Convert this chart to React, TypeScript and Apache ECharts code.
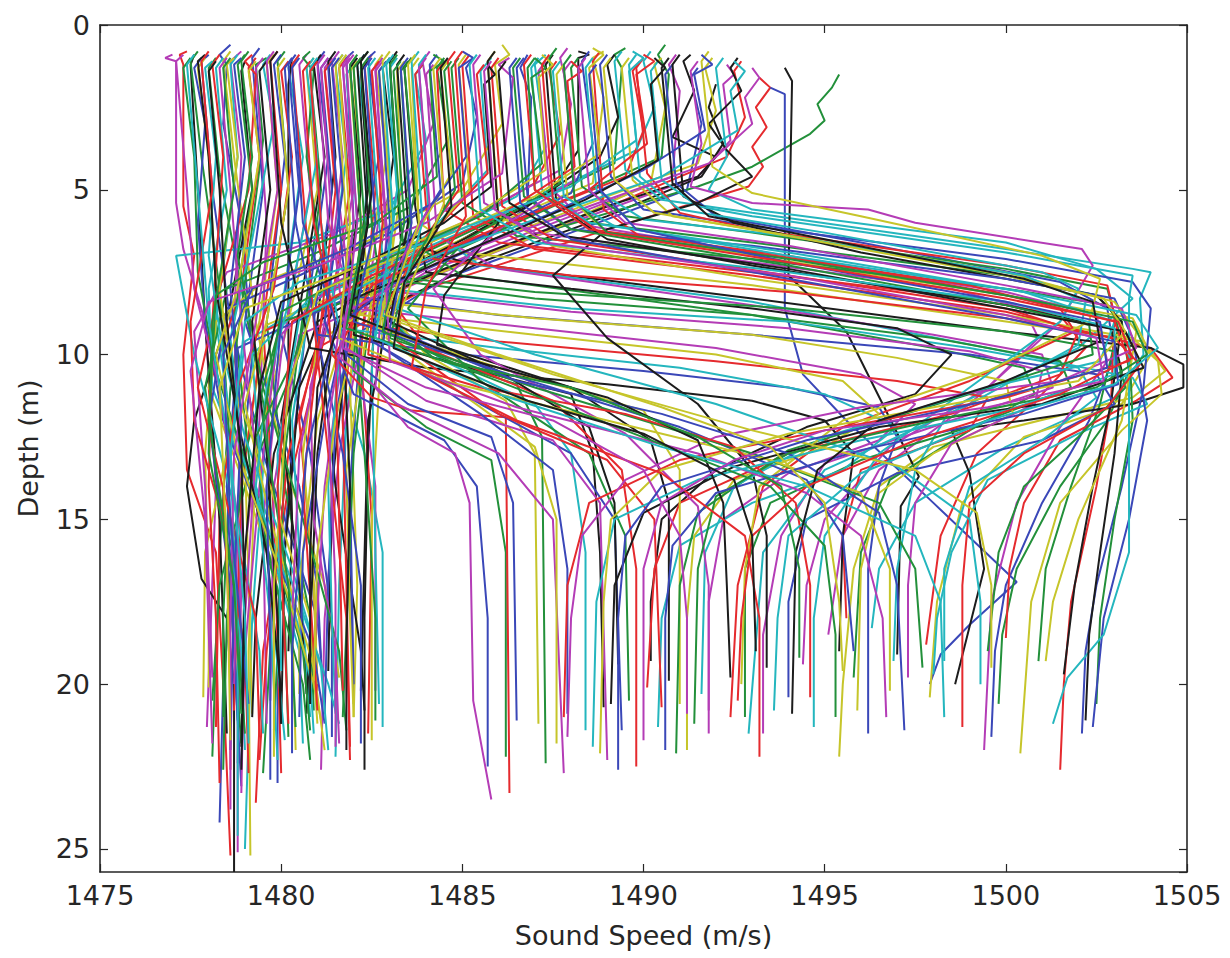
import React, { useEffect, useRef } from "react";
import * as echarts from "echarts";

// Axis ranges and tick labels
const xRange = [1475, 1505];
const yRange = [0, 25.7];
const tickStep = 5;
const xLabel = "Sound Speed (m/s)";
const yLabel = "Depth (m)";

// Each profile: flat list of [soundSpeed, depth, soundSpeed, depth, ...]
// Profiles that stay in the cold cluster (1477-1483 m/s)
const leftProfiles: number[][] = [
  [1478.6,0.6, 1478.3,0.9, 1478.5,1.2, 1478.4,3, 1478.9,6, 1479.2,10, 1478.8,15, 1478.4,20, 1478.3,24.2],
  [1479.6,1.0, 1479.3,1.2, 1479.5,3.5, 1479.1,7, 1478.6,11, 1478.3,16, 1478.1,22.2],
  [1477.4,0.8, 1477.2,0.9, 1477.3,1.2, 1477.3,5.5, 1477.6,7, 1477.3,10, 1477.4,13.5, 1478.2,16, 1478.4,20, 1478.6,25.2],
  [1480.4,1.1, 1480.2,1.3, 1480.6,4, 1480.1,8, 1479.6,12, 1479.2,18, 1479.0,25.0],
  [1477.0,0.9, 1476.8,1.0, 1477.1,1.1, 1477.1,5.4, 1477.3,6.8, 1477.9,9, 1478.2,14, 1477.95,21.3],
  [1479.8,0.9, 1479.6,1.2, 1479.9,5, 1479.4,9, 1478.5,13, 1477.9,16, 1477.85,20.4],
  [1479.0,1.1, 1478.9,1.4, 1479.2,5, 1478.5,9, 1477.6,12, 1477.4,14, 1477.8,16.8, 1478.5,18, 1478.7,20, 1478.7,25.7],

  [1481.2,0.8, 1481.0,1.1, 1481.3,4, 1480.8,8, 1480.3,13, 1479.9,18, 1479.9,23.0],
  [1478.2,1.0, 1478.0,1.3, 1478.3,4.5, 1478.9,8, 1479.6,12, 1479.8,17, 1479.5,22.7],
  [1481.8,1.0, 1481.6,1.3, 1481.9,5, 1481.3,9, 1480.2,14, 1479.5,19, 1479.3,23.6],
  [1482.3,0.9, 1482.1,1.2, 1482.4,4, 1482.2,8, 1481.8,12, 1481.6,17, 1481.5,22.2],
  [1478.9,0.8, 1478.6,1.1, 1478.9,4, 1478.7,9, 1478.9,15, 1478.8,20, 1478.8,25.1],
  [1480.9,1.0, 1480.7,1.3, 1481.0,5, 1480.2,9, 1479.3,13, 1479.1,19, 1479.15,25.2],
  [1483.0,1.0, 1482.8,1.3, 1483.1,4, 1482.6,8, 1482.4,13, 1482.3,18, 1482.3,22.6],

  [1478.0,0.9, 1477.8,1.1, 1478.1,5, 1478.6,9, 1479.5,13, 1481.0,18, 1481.2,20.5],
  [1480.1,0.8, 1479.9,1.1, 1480.2,5, 1479.6,9, 1480.1,14, 1480.8,18, 1480.9,20.8],
  [1479.3,1.0, 1479.1,1.3, 1479.4,4, 1478.9,8, 1478.0,11, 1478.3,15, 1478.2,21.3],
  [1481.7,0.9, 1481.5,1.2, 1481.8,4, 1481.2,9, 1482.3,13, 1482.8,16, 1482.8,21.3],
  [1482.7,1.1, 1482.5,1.4, 1482.8,5, 1482.3,9, 1481.6,13, 1481.2,18, 1481.1,22.6],
  [1477.9,1.0, 1477.7,1.3, 1478.0,4, 1478.2,8, 1478.0,11, 1479.0,14, 1480.3,18, 1480.4,22.0],
  [1480.3,1.0, 1480.2,1.8, 1480.2,10, 1480.3,15, 1480.2,19.0],

  [1482.0,0.8, 1481.8,1.0, 1482.0,6, 1481.6,10, 1481.9,16, 1482.0,20.6],
  [1479.0,0.9, 1478.8,1.2, 1479.2,5, 1478.7,9, 1479.2,14, 1480.1,18, 1480.2,21.6],
  [1482.5,0.9, 1482.3,1.2, 1482.6,5, 1482.2,10, 1482.5,15, 1482.4,21.5],
  [1478.4,1.0, 1478.2,1.3, 1478.5,5, 1478.0,8, 1478.1,11, 1479.5,15, 1480.5,19, 1480.6,21.8],
  [1481.4,1.0, 1481.2,1.3, 1481.5,4.5, 1482.0,9, 1482.6,14, 1482.6,20.2],
  [1483.4,1.1, 1483.2,1.4, 1483.3,5, 1482.8,9, 1482.5,15, 1482.5,21.7],
  [1477.6,0.9, 1477.5,1.2, 1477.7,5, 1477.9,9, 1478.3,15, 1478.5,21.5],

  [1480.0,0.9, 1479.8,1.2, 1480.1,4, 1479.7,8, 1480.8,13, 1481.4,18, 1481.4,21.6],
  [1477.7,0.8, 1477.5,1.1, 1477.8,4, 1478.3,8, 1478.6,13, 1478.4,18, 1478.4,21.0],
  [1479.9,0.8, 1479.7,1.1, 1480.0,5, 1479.5,9, 1479.8,15, 1480.0,22.7],
  [1478.8,0.9, 1478.6,1.2, 1478.8,4, 1478.2,9, 1478.6,12, 1480.0,16, 1481.3,20, 1481.6,21.2],
  [1480.7,0.9, 1480.5,1.2, 1480.8,5, 1480.0,10, 1479.5,15, 1479.6,21.2],
  [1482.2,1.0, 1482.0,1.3, 1482.2,6, 1481.9,11, 1482.1,17, 1482.0,21.0],
  [1481.5,0.8, 1481.3,1.1, 1481.5,4, 1481.0,9, 1481.5,14, 1482.2,19, 1482.3,20.8],

  [1479.4,0.7, 1479.2,1.0, 1479.5,5, 1479.0,9, 1480.5,14, 1481.0,17, 1481.1,19.2],
  [1481.0,1.1, 1480.8,1.4, 1481.1,5, 1480.5,10, 1479.0,14, 1478.3,17, 1478.1,20.5],
  [1478.3,0.9, 1478.1,1.2, 1478.4,4, 1478.1,9, 1478.0,14, 1478.2,18, 1478.3,23.0],
  [1483.2,1.0, 1483.0,1.3, 1483.2,5, 1482.5,10, 1482.6,16, 1482.7,20.6],
  [1479.5,1.0, 1479.3,1.3, 1479.6,6, 1479.4,12, 1478.9,17, 1478.8,22.4],
  [1478.6,0.8, 1478.4,1.1, 1478.7,4, 1479.3,9, 1480.0,13, 1481.2,17, 1481.6,19.8],
  [1482.4,1.1, 1482.2,1.4, 1482.4,5, 1481.9,9, 1481.4,14, 1481.3,19.6],
];

// More cold-cluster profiles, several slanting to the right below 10 m
const leftExtraProfiles: number[][] = [
  [1477.8,1.0, 1477.6,1.3, 1477.9,3, 1477.7,6, 1477.9,9, 1478.4,12, 1479.8,16, 1480.9,19, 1481.2,21.2],
  [1480.8,0.8, 1480.6,1.0, 1480.9,1.4, 1480.7,4, 1481.1,7, 1480.4,10, 1479.3,12.5, 1479.6,16, 1480.6,20, 1480.8,22.3],
  [1479.2,0.9, 1479.0,1.1, 1479.3,1.5, 1479.1,5, 1478.3,8, 1477.7,11, 1478.5,14.5, 1479.3,18, 1479.4,21.6],
  [1478.1,1.1, 1477.9,1.3, 1478.2,4, 1478.0,7, 1478.4,10, 1479.0,12.5, 1480.3,16.5, 1481.1,19.5, 1481.3,22.0],
  [1481.9,1.0, 1481.7,1.3, 1482.0,5, 1481.4,8.5, 1480.8,11, 1480.9,15, 1481.5,19, 1481.6,21.8],
  [1478.7,1.0, 1478.5,1.2, 1478.8,4, 1478.3,8, 1478.7,11, 1479.7,14, 1480.8,18, 1481.0,21.2],
  [1481.1,0.9, 1480.9,1.2, 1481.2,4, 1480.6,8, 1480.0,12, 1480.5,17, 1480.7,20.3],

  [1482.6,0.8, 1482.4,1.0, 1482.7,4, 1482.0,8, 1481.2,12, 1480.6,16, 1480.5,21.0],
  [1477.5,1.0, 1477.3,1.3, 1477.6,4, 1477.7,7.5, 1478.2,10.5, 1479.4,14.5, 1480.6,19, 1480.8,21.4],
  [1480.2,1.1, 1480.0,1.4, 1480.3,4, 1479.8,8, 1478.8,11, 1478.4,14, 1478.6,19, 1478.6,22.6],
  [1479.7,0.9, 1479.5,1.2, 1479.8,3, 1479.2,6.5, 1478.6,9.5, 1478.9,13, 1480.2,17, 1480.8,19.8, 1480.9,21.5],
  [1478.5,1.0, 1478.3,1.3, 1478.6,5, 1478.9,9, 1479.3,13, 1479.0,18, 1478.9,23.3],
  [1482.9,1.1, 1482.7,1.4, 1483.0,5, 1482.4,9, 1481.8,13.5, 1481.9,18, 1482.0,21.0],
  [1477.9,0.9, 1477.7,1.1, 1478.0,4, 1478.2,8, 1478.8,12, 1479.6,16, 1480.0,20.2],

  [1481.3,1.0, 1481.1,1.3, 1481.4,5, 1480.9,9, 1481.7,13, 1482.2,17, 1482.2,21.8],
  [1479.1,0.8, 1478.9,1.1, 1479.2,4, 1478.8,7, 1479.5,11, 1480.6,15, 1481.6,19, 1481.8,21.4],
  [1480.5,0.9, 1480.3,1.2, 1480.6,5, 1480.9,9, 1481.3,13, 1481.8,18, 1481.9,22.3],
  [1482.0,1.2, 1481.8,1.5, 1482.1,6, 1481.6,10, 1481.3,14, 1481.4,18, 1481.5,20.9],
  [1477.3,0.9, 1477.1,1.1, 1477.4,5, 1477.6,8, 1478.3,11, 1478.8,15, 1478.7,20.0],
  [1480.1,1.0, 1479.9,1.3, 1480.2,5, 1479.6,9, 1479.0,11.5, 1479.7,15, 1480.9,19.5, 1481.2,22.0],
  [1479.6,1.1, 1479.4,1.4, 1479.7,5, 1479.2,9, 1479.6,13, 1479.9,18, 1480.0,21.2],

  [1478.9,1.0, 1478.7,1.2, 1479.0,4, 1478.6,8, 1478.9,12, 1478.7,17, 1478.6,22.0],
  [1482.4,1.0, 1482.2,1.3, 1482.5,5, 1482.0,8.5, 1482.3,13, 1482.6,18, 1482.6,21.1],
  [1478.0,0.8, 1477.8,1.1, 1478.1,5, 1477.5,9, 1477.6,12, 1478.4,15, 1479.0,19, 1479.1,22.7],
  [1480.9,1.0, 1480.7,1.3, 1481.0,4, 1480.3,8, 1479.6,11, 1479.3,14, 1479.7,18, 1479.9,22.3],
  [1481.6,0.8, 1481.4,1.1, 1481.7,4, 1481.2,9, 1480.5,13, 1480.3,18, 1480.3,21.4],
  [1479.3,1.1, 1479.1,1.4, 1479.4,4, 1478.8,8, 1478.2,10, 1478.8,13, 1480.1,17, 1480.9,20, 1481.1,21.1],
  [1482.1,1.0, 1481.9,1.3, 1482.2,5, 1481.7,9, 1481.9,14, 1481.8,19, 1481.8,22.0],

  [1480.4,0.9, 1480.2,1.2, 1480.5,5, 1480.0,9, 1479.6,14, 1479.7,19, 1479.7,22.9],
  [1478.6,1.0, 1478.4,1.3, 1478.7,5, 1478.1,9, 1478.0,13, 1478.7,17, 1479.0,21.5],
  [1481.4,1.1, 1481.2,1.4, 1481.5,5, 1481.0,10, 1480.6,14, 1480.9,19, 1481.0,20.8],
  [1477.6,0.9, 1477.4,1.2, 1477.7,5, 1478.0,9, 1478.6,13, 1478.8,19, 1478.8,24.6],
  [1479.8,0.8, 1479.6,1.1, 1479.9,5, 1479.3,9, 1478.7,13, 1478.6,18, 1478.6,23.8],
  [1482.8,0.9, 1482.6,1.2, 1482.9,4, 1482.3,8, 1481.5,12, 1481.0,16, 1480.9,19.9],
  [1478.2,1.1, 1478.0,1.4, 1478.3,5, 1478.5,9, 1478.9,13, 1479.0,18, 1478.9,22.6],
];

// Profiles warm at the surface that drop into the cold cluster
const upperProfiles: number[][] = [
  [1486.8,0.9, 1486.6,1.3, 1486.9,2.2, 1486.8,5.5, 1484.8,7.3, 1482.0,8.6, 1481.5,12, 1481.3,17, 1481.2,20.9],
  [1489.5,0.7, 1489.2,0.9, 1489.4,1.3, 1489.2,4.2, 1486.5,5.6, 1483.0,7.4, 1480.6,8.8, 1480.1,13, 1479.9,19, 1479.8,21.4],
  [1493.2,1.6, 1493.5,1.9, 1493.1,2.5, 1493.4,3.1, 1493.0,3.7, 1493.3,4.3, 1492.9,4.9, 1489.0,6.2, 1484.0,8.0, 1481.0,9.8, 1480.2,13, 1479.6,19, 1479.4,22.3],
  [1485.8,1.0, 1485.5,1.4, 1485.7,4.4, 1484.0,6.4, 1481.5,8.0, 1479.0,9.6, 1478.5,14, 1478.9,19, 1479.0,22.0],
  [1490.9,0.9, 1490.7,1.2, 1491.0,2.0, 1490.8,4.6, 1488.0,5.8, 1484.0,7.5, 1481.8,9.0, 1481.2,14, 1480.9,19.7],
  [1486.1,0.6, 1486.3,0.9, 1485.9,1.2, 1486.1,3.0, 1485.0,5.0, 1482.5,6.5, 1479.5,7.8, 1478.2,9, 1477.9,13, 1478.0,18, 1478.0,20.1],
  [1488.2,0.8, 1488.5,0.9, 1488.2,1.0, 1488.2,3.8, 1487.5,5.0, 1484.5,6.8, 1481.5,8.5, 1480.5,11, 1480.1,16, 1480.0,21.2],

  [1491.5,1.3, 1491.3,1.6, 1491.6,3.0, 1491.2,5.0, 1488.0,6.3, 1484.5,7.7, 1482.2,9.3, 1481.9,14, 1482.0,20.0],
  [1484.5,1.0, 1484.3,1.3, 1484.6,3.5, 1483.6,5.5, 1481.0,6.9, 1478.5,8.0, 1477.9,11, 1478.5,16, 1478.9,21.8],
  [1487.6,1.1, 1487.4,1.4, 1487.7,3.3, 1487.0,4.8, 1484.3,6.5, 1481.3,8.1, 1480.5,12, 1480.9,17, 1481.0,20.2],
  [1490.2,0.8, 1490.0,1.1, 1490.3,2.5, 1489.8,3.8, 1487.0,5.3, 1483.5,7.0, 1480.8,8.4, 1480.3,12, 1480.6,18, 1480.8,21.0],
  [1492.3,1.2, 1492.5,1.5, 1492.2,1.8, 1492.4,3.5, 1491.5,4.6, 1488.0,6.0, 1484.0,7.7, 1480.5,9.4, 1479.8,14, 1479.7,20.5],
  [1488.9,0.8, 1488.6,1.0, 1488.9,2.2, 1488.6,4.8, 1486.0,6.0, 1482.6,7.7, 1479.6,9.1, 1479.0,13, 1479.2,20.9],
  [1492.0,1.8, 1491.8,2.5, 1492.2,3.6, 1491.6,4.6, 1489.0,5.8, 1485.5,7.2, 1483.0,8.5, 1482.4,12, 1482.2,20.2],

  [1485.3,1.0, 1485.1,1.3, 1485.4,2.8, 1485.0,4.8, 1483.0,6.3, 1480.5,7.6, 1478.5,8.6, 1478.0,12, 1478.6,17, 1478.9,23.1],
  [1490.6,0.6, 1490.4,0.9, 1490.7,1.5, 1490.5,4.0, 1487.5,5.5, 1484.5,7.0, 1482.5,8.2, 1482.0,13, 1481.7,21.0],
  [1489.9,1.1, 1489.7,1.4, 1490.0,3.2, 1489.5,4.6, 1487.0,5.7, 1483.0,7.6, 1479.5,9.3, 1478.9,14, 1478.7,20.8],
  [1487.3,0.9, 1487.0,1.2, 1487.3,3.7, 1486.5,5.2, 1483.5,6.9, 1480.8,8.3, 1479.2,10, 1479.6,16, 1480.1,21.7],
  [1484.1,0.8, 1483.9,1.1, 1484.2,3.0, 1483.5,5.0, 1481.5,6.3, 1478.5,7.5, 1477.6,9.3, 1477.9,14, 1478.1,19.8],
  [1491.9,1.0, 1491.7,1.3, 1492.0,2.6, 1491.5,4.2, 1489.0,5.2, 1485.0,6.9, 1482.0,8.4, 1481.0,12, 1480.5,17, 1480.5,20.3],
  [1489.2,0.9, 1489.0,1.2, 1489.3,2.8, 1488.8,4.0, 1486.8,5.5, 1483.8,7.2, 1481.0,9.0, 1479.8,13, 1479.3,18, 1479.2,21.0],

  [1488.5,0.8, 1488.3,1.1, 1488.6,3.6, 1488.0,5.1, 1485.2,6.6, 1481.8,8.3, 1478.8,9.8, 1478.5,14, 1478.8,21.1],
  [1495.4,1.5, 1495.2,1.9, 1494.8,2.4, 1495.0,2.9, 1494.6,3.3, 1493.0,4.3, 1491.5,4.9, 1487.5,6.2, 1483.5,7.8, 1480.0,9.0, 1479.0,13, 1478.5,18, 1478.4,22.6],
  [1492.7,1.1, 1492.5,1.4, 1492.8,2.8, 1492.3,4.0, 1489.5,5.3, 1485.5,7.0, 1482.0,8.6, 1481.7,12, 1481.9,21.9],
  [1483.9,1.2, 1483.7,1.5, 1484.0,3.5, 1483.0,5.6, 1480.5,6.6, 1477.1,7.0, 1477.6,10, 1478.8,15, 1479.4,19, 1479.5,21.5],
  [1487.9,0.7, 1487.7,1.0, 1488.0,2.4, 1487.7,4.4, 1485.0,6.0, 1481.5,7.8, 1479.9,9.5, 1479.4,14, 1479.0,19, 1478.9,22.6],
  [1490.5,1.0, 1490.3,1.2, 1490.6,2.5, 1490.2,4.8, 1487.5,6.2, 1483.5,7.9, 1481.0,9.6, 1480.6,13, 1480.9,17, 1481.0,20.0],
  [1491.3,0.9, 1491.1,1.1, 1491.4,2.0, 1490.8,3.4, 1492.0,4.0, 1491.5,4.6, 1489.0,5.5, 1484.5,7.4, 1481.5,8.9, 1481.0,13, 1480.7,20.9],
];

const upperExtraProfiles: number[][] = [
  [1485.0,0.8, 1485.3,1.0, 1484.9,1.3, 1485.1,4.0, 1484.2,5.4, 1481.8,6.8, 1479.2,8.0, 1478.4,10, 1478.6,15, 1479.1,20.6],
  [1487.0,1.0, 1487.3,1.3, 1486.9,1.6, 1487.2,4.2, 1485.5,5.8, 1482.5,7.3, 1480.0,8.7, 1479.5,12, 1480.2,17, 1480.4,21.3],
  [1490.0,0.9, 1490.3,1.1, 1489.8,1.5, 1490.1,3.6, 1488.5,5.0, 1485.0,6.6, 1482.5,7.9, 1481.5,10, 1481.6,15, 1481.7,20.2],
  [1492.5,1.1, 1492.8,1.4, 1492.4,2.0, 1492.6,3.2, 1490.5,4.6, 1487.0,5.9, 1483.0,7.5, 1480.5,8.9, 1479.9,13, 1480.0,19.6],
  [1486.3,1.0, 1486.0,1.2, 1486.4,1.6, 1486.1,4.5, 1484.0,6.0, 1481.0,7.3, 1478.0,8.4, 1477.5,10.5, 1477.9,15, 1478.1,21.8],
  [1488.6,0.7, 1488.9,0.9, 1488.5,1.3, 1488.8,3.9, 1487.0,5.2, 1483.5,6.9, 1481.0,8.1, 1480.2,11, 1479.8,17, 1479.8,22.2],
  [1485.7,1.2, 1485.9,1.5, 1485.6,1.8, 1485.8,4.9, 1484.5,6.0, 1482.0,7.4, 1480.0,8.4, 1479.4,11, 1479.0,16, 1478.9,21.9],

  [1491.6,0.9, 1491.9,1.2, 1491.4,1.5, 1491.7,3.2, 1490.0,4.4, 1486.5,6.2, 1483.0,7.9, 1481.5,9.2, 1480.7,13, 1480.3,19, 1480.3,22.1],
  [1484.2,0.9, 1484.5,1.1, 1484.1,1.4, 1484.3,4.6, 1482.6,6.0, 1479.5,7.2, 1478.2,8.2, 1478.0,12, 1478.7,17, 1478.9,20.9],
  [1488.0,1.1, 1488.3,1.4, 1487.9,1.7, 1488.1,4.3, 1486.0,5.8, 1482.5,7.6, 1480.3,9.0, 1479.9,14, 1480.2,21.2],
  [1489.7,0.8, 1490.0,1.0, 1489.6,1.4, 1489.8,3.5, 1488.0,4.9, 1484.0,6.6, 1480.5,7.8, 1479.0,9.0, 1478.6,13, 1479.0,18, 1479.1,21.8],
  [1493.0,1.3, 1493.2,1.6, 1492.8,2.2, 1493.0,3.0, 1491.8,4.2, 1488.5,5.5, 1484.5,7.1, 1481.8,8.7, 1481.3,12, 1481.5,17, 1481.5,21.9],
  [1487.2,0.9, 1487.5,1.2, 1487.1,1.6, 1487.3,4.4, 1485.0,6.0, 1481.5,7.6, 1479.0,8.6, 1478.3,11, 1478.5,16, 1478.6,21.7],
  [1490.3,1.0, 1490.6,1.3, 1490.2,1.8, 1490.4,4.1, 1488.4,5.3, 1484.8,7.0, 1481.8,8.4, 1481.0,11, 1480.8,16, 1480.8,20.6],
];

// Profiles with the warm layer (1495-1505 m/s) at 6-12 m
const warmProfiles: number[][] = [
  [1493.5,1.9, 1493.9,2.1, 1493.9,8.6, 1494.4,10.6, 1495.6,12.0, 1498.0,14.5, 1500.3,16.9, 1499.0,18.2, 1498.2,19.1, 1497.9,20.0],
  [1487.0,1.0, 1486.8,1.3, 1487.0,5.0, 1488.5,6.0, 1493,6.6, 1500,7.6, 1502.5,8.2, 1503.2,9.0, 1503.4,10.5, 1502.8,12.0, 1501.5,14.0, 1500.3,16.5, 1499.9,18.5, 1499.8,20.6],
  [1484.5,1.1, 1484.3,1.4, 1484.5,5.6, 1486.0,6.6, 1493,7.5, 1499,8.3, 1501.5,8.8, 1502.2,9.8, 1501.0,11.2, 1499.2,13.0, 1498.2,15.5, 1497.8,18.8],
  [1489.4,0.8, 1489.2,1.1, 1489.5,4.4, 1490.5,5.3, 1493,5.7, 1500,6.8, 1503.5,7.4, 1504.0,7.5, 1503.7,8.3, 1503.8,10.0, 1503.0,11.3, 1500.0,12.8, 1497.5,14.5, 1496.5,16.5, 1496.3,18.3],
  [1485.5,0.9, 1485.3,1.2, 1485.6,5.4, 1487,6.3, 1493,7.2, 1498.5,8.0, 1500.5,8.6, 1500.9,9.5, 1499.5,11.0, 1496.8,12.8, 1495.0,15.0, 1494.5,17.0, 1494.4,19.4],
  [1483.8,1.0, 1483.6,1.3, 1483.8,6.0, 1485,6.9, 1493,7.9, 1500,9.0, 1503.8,9.6, 1504.4,10.5, 1503.5,11.3, 1498.0,12.8, 1496.5,14.0, 1495.8,16.5, 1495.5,20.0, 1495.4,22.2],
  [1493.9,1.3, 1494.1,1.7, 1494.0,7.6, 1495.6,9.3, 1497.6,13.7, 1497.1,14.6, 1497.0,19.1],

  [1490.8,1.2, 1490.6,1.5, 1490.9,4.8, 1492,5.8, 1496,6.6, 1501.5,7.8, 1502.8,8.6, 1503.0,10.0, 1502.3,12.0, 1501.0,14.5, 1500.0,17.0, 1499.7,19.0, 1499.6,21.6],
  [1488.2,1.0, 1488.0,1.3, 1488.3,4.9, 1489.5,5.8, 1493,6.3, 1500,7.4, 1502.8,8.0, 1503.1,9.2, 1502.6,11.5, 1501.8,14.0, 1501.1,16.5, 1500.9,19.3],
  [1485.2,0.9, 1485.0,1.2, 1485.3,5.8, 1487,6.8, 1493,7.6, 1500,8.7, 1504.0,9.8, 1504.6,10.7, 1503.6,11.4, 1501.5,12.6, 1500.5,14.5, 1500.1,16.5, 1500.0,18.6],
  [1492.2,1.0, 1492.0,1.3, 1492.3,4.0, 1491.8,5.0, 1493,5.6, 1500,6.6, 1502.5,7.4, 1503.5,8.3, 1502.0,9.8, 1498.5,11.6, 1497.5,13.5, 1497.0,16.5, 1496.9,19.3],
  [1491.5,1.1, 1491.3,1.4, 1491.6,3.6, 1491.3,4.9, 1493,5.4, 1496.2,5.6, 1497.5,6.0, 1502.1,6.8, 1502.4,7.3, 1501.5,9.0, 1499.0,11.5, 1496.5,13.5, 1495.5,15.5, 1495.1,18.5],
  [1487.8,1.2, 1487.6,1.5, 1487.9,5.2, 1489,6.3, 1493,7.0, 1500,8.2, 1503.5,8.9, 1504.0,10.0, 1503.2,11.5, 1500.5,12.5, 1498.8,14.5, 1498.1,17.5, 1497.9,20.4],
  [1483.2,0.8, 1483.0,1.1, 1483.3,6.5, 1485,7.2, 1493,8.3, 1500,9.3, 1504.0,9.8, 1504.9,10.3, 1504.9,11.0, 1503.5,11.5, 1500.5,12.0, 1498.5,12.3, 1499.0,13.6, 1499.4,16.5, 1498.6,20.0],

  [1489.0,0.9, 1488.8,1.2, 1489.1,4.6, 1490,5.6, 1493,6.1, 1500,7.1, 1503.5,7.8, 1504.0,8.6, 1503.8,11.0, 1503.2,14.0, 1502.5,17.0, 1502.2,19.0, 1502.1,21.5],
  [1484.9,1.0, 1484.7,1.3, 1485.0,5.4, 1486.5,6.4, 1493,7.1, 1500,8.0, 1502.8,8.5, 1503.4,9.5, 1503.5,12.0, 1503.0,15.0, 1502.6,18.0, 1502.5,20.6],
  [1490.0,1.0, 1489.8,1.3, 1490.1,4.5, 1491,5.7, 1493,6.2, 1500,7.3, 1502.8,7.9, 1503.0,8.8, 1502.9,11.5, 1502.5,14.0, 1501.8,17.5, 1501.6,20.0, 1501.5,22.6],
  [1484.0,0.9, 1483.8,1.2, 1484.1,6.2, 1485.5,7.3, 1493,8.4, 1499.5,9.8, 1503.5,10.7, 1503.9,11.5, 1502.0,12.4, 1499.5,13.8, 1498.5,16.0, 1498.1,18.0, 1498.0,19.7],
  [1487.3,1.1, 1487.1,1.4, 1487.4,4.9, 1488.5,6.1, 1493,6.9, 1500,8.1, 1502.5,8.8, 1502.8,10.2, 1501.5,12.2, 1500.3,14.5, 1499.6,17.5, 1499.4,22.0],
  [1485.9,0.8, 1485.7,1.1, 1486.0,5.8, 1487.5,6.7, 1493,7.7, 1500,8.8, 1503.5,9.5, 1504.2,10.2, 1504.3,11.2, 1503.2,12.3, 1501.5,14.5, 1500.7,17.5, 1500.4,22.1],
  [1491.0,0.9, 1490.8,1.2, 1491.1,5.2, 1492.5,6.0, 1496,6.9, 1501,7.9, 1502.5,8.2, 1503.2,9.0, 1502.9,11.5, 1502.4,14.0, 1501.9,17.0, 1501.6,19.7],

  [1486.7,1.0, 1486.5,1.3, 1486.8,5.2, 1488,6.2, 1493,6.7, 1500,7.7, 1503.0,8.3, 1503.5,9.5, 1503.9,12.0, 1503.4,15.0, 1502.7,18.0, 1502.4,21.3],
  [1483.5,1.1, 1483.3,1.4, 1483.6,6.6, 1485,7.6, 1493,8.8, 1498,9.8, 1500.5,10.4, 1500.8,11.2, 1499.0,12.3, 1496.8,13.8, 1496.0,16.0, 1495.8,19.8],
  [1488.8,0.8, 1488.6,1.1, 1488.9,5.6, 1490,6.5, 1493,6.9, 1499,7.9, 1501.5,8.6, 1501.9,9.3, 1499.0,10.8, 1495.5,12.2, 1493.3,14.0, 1492.6,17.0, 1492.4,21.0],
  [1490.4,1.1, 1490.2,1.4, 1490.5,4.7, 1491.5,5.5, 1493,5.8, 1500,6.9, 1503.5,7.6, 1503.4,8.3, 1503.4,12.5, 1503.4,16.0, 1502.7,18.5, 1501.7,19.8, 1501.3,21.2],
  [1484.2,1.2, 1484.0,1.5, 1484.3,6.4, 1486,7.4, 1493,8.5, 1498,9.4, 1501.0,10.0, 1501.3,11.0, 1498.5,12.0, 1495.0,13.3, 1493.8,15.5, 1493.3,18.5, 1493.3,21.5],
  [1489.6,1.0, 1489.4,1.3, 1489.7,4.7, 1490.8,5.8, 1493,6.2, 1500,7.5, 1503.0,8.4, 1503.6,9.3, 1503.2,12.0, 1502.0,15.0, 1501.3,17.5, 1501.1,19.3],
  [1487.5,0.9, 1487.3,1.2, 1487.6,5.5, 1489,6.5, 1493,7.3, 1500,8.5, 1502.9,9.2, 1503.2,10.5, 1503.0,13.0, 1502.6,16.0, 1502.3,18.5, 1502.2,21.1],
];

// Warm-layer profiles entering from the cold cluster at 7.5-10 m
const deepLobeProfiles: number[][] = [
  [1481.5,1.0, 1481.3,1.3, 1481.6,6, 1481.8,8.2, 1486,8.8, 1493,9.4, 1499,10.0, 1502.5,10.6, 1503.0,11.5, 1501.0,12.6, 1497.0,13.6, 1494.5,15.0, 1494.0,17.5, 1494.0,20.4],
  [1483.2,0.9, 1483.0,1.2, 1483.3,6, 1483.5,7.8, 1487,8.3, 1493,8.8, 1498,9.5, 1501.5,10.2, 1501.8,11.0, 1499.0,12.2, 1496.0,13.2, 1493.5,14.5, 1492.8,16.5, 1492.8,21.0],
  [1480.8,1.1, 1480.6,1.4, 1480.9,6, 1481.5,9.0, 1486,9.6, 1492,10.2, 1497,10.8, 1499.5,11.3, 1499.0,12.3, 1496.0,13.5, 1495.5,15.5, 1495.6,18.0],
  [1482.6,1.0, 1482.4,1.3, 1482.7,6, 1482.9,8.0, 1488,8.6, 1494,9.0, 1499,9.8, 1502.0,10.4, 1502.5,11.3, 1501.0,12.6, 1499.0,14.0, 1498.3,16.5, 1498.3,19.3],
  [1481.2,0.9, 1481.0,1.2, 1481.3,6, 1482.0,8.6, 1487,9.2, 1492,9.8, 1496,10.6, 1497.5,11.5, 1496.5,12.6, 1494.0,13.6, 1492.2,15.0, 1491.8,17.5, 1491.8,20.8],
  [1482.1,1.1, 1481.9,1.4, 1482.2,6, 1482.5,8.4, 1487,8.9, 1493,9.4, 1497,10.1, 1500.0,10.8, 1500.2,11.8, 1498.0,13.0, 1496.5,14.2, 1496.0,16.5, 1495.9,20.8],
  [1483.6,1.0, 1483.4,1.3, 1483.7,5.5, 1484.0,7.5, 1488,8.0, 1493,8.6, 1497,9.2, 1498.5,10.0, 1497.5,11.2, 1494.5,12.2, 1492.0,13.5, 1490.5,15.0, 1490.2,17.5, 1490.2,19.3],

  [1480.3,1.0, 1480.1,1.3, 1480.4,6, 1481.0,9.4, 1485,10.0, 1490,10.5, 1494,11.0, 1496.5,11.6, 1497.0,12.5, 1496.5,14.0, 1496.2,16.5, 1496.2,21.5],
  [1482.4,0.8, 1482.2,1.1, 1482.5,6, 1482.7,7.6, 1487,8.1, 1494,8.6, 1500,9.3, 1503.0,9.9, 1503.3,11.0, 1502.0,12.5, 1500.5,14.0, 1499.8,16.0, 1499.5,19.0],
  [1483.9,1.2, 1483.7,1.5, 1484.0,5.5, 1484.2,7.1, 1488,7.6, 1494,8.1, 1500,8.9, 1503.0,9.5, 1503.7,10.3, 1502.8,11.6, 1500.5,13.0, 1499.0,14.5, 1498.8,17.0, 1498.8,21.3],
  [1481.0,1.0, 1480.8,1.3, 1481.1,6, 1481.6,9.2, 1486,9.8, 1491,10.4, 1495,11.2, 1497.0,12.2, 1495.5,13.5, 1493.0,14.5, 1491.0,15.8, 1490.5,18.0, 1490.4,21.3],
  [1482.8,1.1, 1482.6,1.4, 1482.9,6, 1483.2,8.1, 1488,8.7, 1494,9.2, 1499,9.9, 1501.0,10.5, 1500.8,11.5, 1498.5,12.7, 1497.5,14.5, 1497.3,17.0, 1497.3,19.8],
  [1481.7,0.9, 1481.5,1.2, 1481.8,6, 1482.2,8.8, 1487,9.4, 1492,10.0, 1495.5,10.8, 1496.5,11.8, 1495.0,12.8, 1492.5,13.8, 1491.4,15.5, 1491.2,18.0, 1491.2,22.0],
  [1479.9,0.8, 1479.7,1.1, 1480.0,6, 1480.8,9.8, 1484,10.4, 1489,10.9, 1493,11.4, 1495.0,12.0, 1495.8,13.0, 1495.5,15.5, 1495.4,19.0],
];

// Profiles that warm up again below 10 m
const midProfiles: number[][] = [
  [1481.6,1.0, 1481.4,1.3, 1481.7,5, 1481.2,9, 1482.0,11.2, 1484.5,12.6, 1485.4,14.0, 1485.7,18, 1485.7,22.5],
  [1482.1,0.9, 1481.9,1.2, 1482.2,6, 1482.0,10.5, 1484.0,12.2, 1485.8,13.2, 1486.2,16, 1486.2,22.2],
  [1481.0,1.1, 1480.8,1.4, 1481.1,6, 1481.4,10, 1482.5,11.3, 1483.6,11.7, 1486.2,11.9, 1486.3,23.3],
  [1483.1,0.9, 1482.9,1.2, 1483.2,5, 1482.8,8.8, 1484.5,10.2, 1487.0,11.5, 1488.0,13, 1488.4,16, 1488.4,21.4],
  [1482.8,1.0, 1482.6,1.3, 1482.9,6.5, 1482.6,11, 1483.5,12.2, 1484.8,13.0, 1485.2,14.5, 1485.3,20.5, 1485.8,23.5],
  [1484.6,1.1, 1484.4,1.4, 1484.7,4.5, 1483.5,6.8, 1482.8,8.5, 1484.0,10.0, 1486.2,11.4, 1487.0,13.0, 1487.1,21.2],
  [1482.4,0.8, 1482.2,1.1, 1482.5,5, 1482.0,9.4, 1485.5,10.5, 1488.0,11.2, 1488.6,13, 1488.8,16, 1488.9,20.7],

  [1480.5,1.0, 1480.3,1.3, 1480.6,6, 1481.8,10, 1483.5,11.5, 1485.8,12.5, 1486.4,14.5, 1486.5,21.1],
  [1483.6,1.0, 1483.4,1.3, 1483.7,5, 1483.0,9.0, 1484.2,10.1, 1486.5,10.9, 1487.2,12.5, 1487.3,22.4],
  [1485.6,1.2, 1485.4,1.5, 1485.7,4.5, 1484.0,6.5, 1483.0,8.3, 1484.0,9.8, 1487.5,11.4, 1489.4,13.5, 1489.8,16.5, 1489.8,22.5],
  [1488.6,1.0, 1488.4,1.3, 1488.7,5.0, 1490,5.9, 1494,6.4, 1500.5,7.6, 1502.2,8.4, 1502.0,9.7, 1499.0,11.5, 1495.0,13.5, 1493.3,16.0, 1492.9,21.5],
  [1481.9,0.9, 1481.7,1.2, 1482.0,6, 1481.5,10, 1483.2,11.5, 1486.0,13.0, 1487.5,15.0, 1487.8,22.7],
  [1485.1,0.9, 1484.9,1.2, 1485.2,5.0, 1483.6,7.0, 1482.9,9.5, 1485.0,11.2, 1487.0,12.8, 1487.6,15.0, 1487.6,21.8],
  [1492.6,1.0, 1492.4,1.3, 1492.7,2.0, 1491.8,3.0, 1492.3,3.8, 1493.0,4.6, 1491.5,5.4, 1489.0,6.2, 1487.5,7.6, 1489.0,9.5, 1491.5,11.5, 1493.0,13.5, 1493.4,15.5, 1493.4,19.5],

  [1482.9,1.1, 1482.7,1.4, 1483.0,6.0, 1482.5,9.6, 1485.5,11.5, 1488.0,13.0, 1489.2,15.0, 1489.4,21.4],
  [1487.6,0.7, 1487.4,1.0, 1487.7,4.8, 1485.0,6.6, 1483.5,8.6, 1485.5,10.8, 1488.5,13.0, 1489.5,15.5, 1489.6,20.5],
  [1486.0,1.0, 1485.8,1.3, 1486.1,5.5, 1487.5,6.5, 1494,7.6, 1500,8.6, 1502.0,9.3, 1501.5,10.6, 1498.5,11.8, 1494.0,13.0, 1491.0,14.5, 1490.3,16.5, 1490.1,20.1],
  [1489.8,0.9, 1489.6,1.2, 1489.9,4.6, 1491,5.6, 1495,6.3, 1501,7.5, 1502.0,8.0, 1501.5,9.0, 1499.0,11.0, 1496.5,13.0, 1495.0,15.5, 1494.7,18, 1494.7,21.3],
  [1481.3,1.0, 1481.1,1.3, 1481.4,6.0, 1481.8,9.8, 1484.0,11.4, 1487.5,12.6, 1488.8,14.5, 1489.0,22.3],
  [1483.0,0.8, 1482.8,1.1, 1483.1,7, 1482.7,9.2, 1486,10.4, 1490,11.7, 1491.0,13.5, 1491.0,20.6],
  [1485.9,0.8, 1485.7,1.1, 1486.0,6, 1484.5,8.2, 1484.3,9.7, 1488.0,11.0, 1490.2,12.6, 1490.7,14.5, 1490.7,19.9],

  [1484.3,0.9, 1484.1,1.2, 1484.4,5.0, 1483.0,7.5, 1482.8,9.8, 1485.5,11.8, 1487.5,13.5, 1487.9,16.5, 1487.9,20.9],
  [1486.6,1.0, 1486.4,1.3, 1486.7,5.2, 1488.0,6.2, 1494.0,7.3, 1500.0,8.5, 1502.3,9.1, 1502.4,10.0, 1499.0,11.2, 1494.0,12.9, 1491.5,14.8, 1491.0,17.0, 1490.9,22.1],
  [1484.8,0.8, 1484.6,1.1, 1484.9,5.0, 1483.5,7.2, 1483.2,9.6, 1486.0,11.8, 1489.0,13.2, 1490.3,15.0, 1490.5,20.7],
  [1487.1,1.0, 1486.9,1.3, 1487.2,5.0, 1488.5,6.0, 1494,6.9, 1500.5,8.1, 1503.0,9.0, 1502.6,10.2, 1499.5,11.0, 1495.0,12.5, 1492.5,14.0, 1491.7,16.0, 1491.6,20.3],
  [1488.0,1.1, 1487.8,1.4, 1488.1,4.7, 1486.0,6.2, 1484.2,8.0, 1485.5,10.0, 1489.5,12.4, 1491.5,14.6, 1491.8,17.0, 1491.8,21.5],
  [1491.8,0.8, 1491.6,1.1, 1491.9,4.3, 1493,5.1, 1496,5.8, 1501,7.0, 1502.6,7.7, 1502.3,9.0, 1499.5,10.5, 1495.5,12.0, 1493.2,14.0, 1492.8,16.5, 1492.7,20.0],
  [1483.4,0.9, 1483.2,1.2, 1483.5,6.0, 1483.0,9.0, 1486.0,10.5, 1488.5,12.2, 1489.2,14.5, 1489.3,19.4],
];

// Profiles crossing the middle between 9 and 16 m
const crossProfiles: number[][] = [
  [1482.5,1.0, 1482.3,1.3, 1482.6,6, 1482.0,9.0, 1486,10.5, 1491,12.2, 1494.5,13.8, 1495.5,15.5, 1495.8,19.0],
  [1484.7,1.1, 1484.5,1.4, 1484.8,5, 1483.5,7.5, 1483.0,9.5, 1487,11.0, 1493,13.0, 1496.5,14.5, 1497.5,16.5, 1497.7,19.5],
  [1486.9,0.9, 1486.7,1.2, 1487.0,5.0, 1488.5,6.2, 1494,7.0, 1500,8.2, 1503.0,9.0, 1503.4,10.2, 1500.0,11.3, 1495.0,12.3, 1491.0,13.2, 1488.5,14.5, 1487.9,17.0, 1487.8,21.0],
  [1483.8,0.8, 1483.6,1.1, 1483.9,6, 1483.2,8.6, 1487,10.0, 1492,11.5, 1497,13.4, 1499.0,15.0, 1499.3,17.5, 1499.3,20.0],
  [1488.4,1.0, 1488.2,1.3, 1488.5,5.0, 1489.5,6.0, 1494,6.7, 1500,7.9, 1503.2,8.6, 1503.6,9.8, 1501.5,10.8, 1496,11.6, 1492,12.5, 1489.5,13.8, 1488.3,15.5, 1488.0,18.0, 1487.9,21.6],
  [1481.8,0.9, 1481.6,1.2, 1481.9,6, 1481.6,9.5, 1484.5,10.8, 1489,12.0, 1493.5,13.2, 1496.0,14.2, 1496.8,16.5, 1496.8,20.2],
  [1486.2,1.1, 1486.0,1.4, 1486.3,5.4, 1487.8,6.4, 1494,7.4, 1500,8.6, 1503.3,9.3, 1503.8,10.4, 1501.0,11.5, 1496.5,12.2, 1492.5,13.4, 1490.0,14.8, 1489.2,17.0, 1489.1,20.6],

  [1483.5,1.0, 1483.3,1.3, 1483.6,6, 1483.0,9.2, 1486.5,10.8, 1490.5,11.8, 1494,13.0, 1496.5,14.8, 1497.0,17.0, 1497.2,21.4],
  [1488.0,0.9, 1487.8,1.2, 1488.1,5.3, 1489.0,6.3, 1494,7.1, 1500.5,8.3, 1503.5,9.0, 1503.9,10.0, 1502.5,11.0, 1498,12.0, 1494,13.0, 1492.0,14.3, 1491.5,16.5, 1491.4,21.2],
  [1482.7,1.1, 1482.5,1.4, 1482.8,6, 1482.4,10.0, 1485.5,11.0, 1489.5,11.8, 1492.5,12.8, 1494.2,14.5, 1494.6,17.0, 1494.6,20.4],
  [1485.4,0.9, 1485.2,1.2, 1485.5,5.6, 1487.0,6.6, 1494,7.5, 1500,8.4, 1503.0,9.2, 1503.0,10.6, 1500.0,11.7, 1496.0,12.6, 1491.5,13.8, 1489.2,15.0, 1488.7,17.5, 1488.6,21.9],
  [1484.0,1.0, 1483.8,1.3, 1484.1,5.5, 1482.9,8.0, 1483.0,10.2, 1486.5,11.6, 1491.5,13.0, 1494.5,14.2, 1496.0,15.5, 1496.6,18.0, 1496.7,21.0],
  [1489.1,1.0, 1488.9,1.3, 1489.2,4.7, 1490.3,5.7, 1494,6.4, 1500,7.6, 1502.7,8.3, 1503.3,9.3, 1502.0,10.8, 1498.5,11.5, 1494.0,12.4, 1490.5,13.5, 1489.1,15.0, 1488.9,17.5, 1488.8,22.1],
  [1482.3,0.9, 1482.1,1.2, 1482.4,6, 1481.9,8.8, 1485.0,10.1, 1489.0,11.3, 1491.5,12.6, 1492.2,14.5, 1492.3,17.0, 1492.4,19.8],

  [1486.5,1.0, 1486.3,1.3, 1486.6,5.4, 1488,6.5, 1494,7.7, 1500,8.9, 1503.0,9.6, 1503.1,10.9, 1500.5,11.8, 1496,12.9, 1492.0,14.2, 1490.8,15.8, 1490.6,18, 1490.6,22.0],
  [1483.3,1.1, 1483.1,1.4, 1483.4,6, 1482.8,9.3, 1485.5,10.6, 1489.5,12.3, 1493.5,14.0, 1495.0,15.8, 1495.3,18.5, 1495.3,21.0],
  [1485.0,0.8, 1484.8,1.1, 1485.1,5.8, 1484.0,8.0, 1483.6,10.4, 1486.5,12.0, 1490.5,13.6, 1492.8,15.5, 1493.2,18.0, 1493.2,22.2],
  [1487.7,1.1, 1487.5,1.4, 1487.8,5.2, 1489.2,6.1, 1494,7.0, 1500.5,8.1, 1503.6,8.8, 1504.2,9.8, 1503.0,10.9, 1499.5,12.0, 1496.0,13.6, 1494.0,15.5, 1493.7,18.0, 1493.6,20.8],
  [1482.0,0.9, 1481.8,1.2, 1482.1,6, 1481.7,9.8, 1484,11.0, 1487.5,12.0, 1490.0,13.5, 1491.0,15.5, 1491.2,18.0, 1491.2,20.9],
  [1484.4,1.0, 1484.2,1.3, 1484.5,5.4, 1483.6,7.8, 1483.2,9.0, 1487.5,10.6, 1493,12.3, 1497.5,13.5, 1499.2,14.8, 1499.6,17.0, 1499.6,19.5],
  [1490.7,1.0, 1490.5,1.3, 1490.8,4.8, 1491.8,5.8, 1495,6.5, 1500.5,7.7, 1502.4,8.4, 1502.6,9.6, 1500.0,10.8, 1496.5,12.0, 1494.8,13.5, 1494.2,16.0, 1494.1,20.9],

  [1488.7,1.2, 1488.5,1.5, 1488.8,5.0, 1489.8,6.2, 1494,7.2, 1500,8.4, 1502.6,9.0, 1502.8,10.4, 1499.5,11.4, 1494.5,12.6, 1490.5,14.0, 1489.5,15.5, 1489.3,18, 1489.3,22.6],
  [1482.2,1.0, 1482.0,1.3, 1482.3,6, 1481.8,9.2, 1484.5,10.2, 1488,11.0, 1491.5,12.5, 1493.8,14.0, 1494.3,16.5, 1494.3,19.2],
  [1487.4,0.9, 1487.2,1.2, 1487.5,5.3, 1488.8,6.3, 1494,7.2, 1500,8.3, 1503.1,9.0, 1503.5,10.1, 1501.5,11.2, 1497.5,12.6, 1494.5,14.0, 1493.0,15.5, 1492.7,18.0, 1492.6,20.5],
  [1483.0,1.0, 1482.8,1.3, 1483.1,6, 1482.6,9.5, 1486.0,11.2, 1490.5,12.8, 1494.5,14.0, 1497.5,15.5, 1498.2,17.5, 1498.3,21.0],
  [1485.8,1.1, 1485.6,1.4, 1485.9,5.6, 1487.3,6.6, 1494,7.6, 1500,8.8, 1502.5,9.5, 1502.7,10.8, 1499.5,11.6, 1495,12.3, 1492.5,13.2, 1490.5,14.5, 1490.0,16.5, 1490.0,21.7],
  [1483.7,0.9, 1483.5,1.2, 1483.8,6, 1482.9,8.8, 1486.0,10.0, 1490.5,11.6, 1493.5,12.8, 1495.0,14.5, 1495.4,17.5, 1495.5,19.6],
  [1484.6,1.0, 1484.4,1.3, 1484.7,5.5, 1483.4,7.8, 1483.1,9.8, 1486.8,11.4, 1490.0,12.4, 1492.5,13.8, 1493.0,15.5, 1493.1,19.0],
];

// matplotlib classic colour cycle: b, g, r, c, m, y, k
const CYCLE = ["#3a47b8", "#22903a", "#e52a2e", "#24b6be", "#b43cb6", "#c6c52a", "#1c1c1c"];
const INK = "#262626";
const FONT = "DejaVu Sans";

function toPairs(flat: number[]): number[][] {
  const out: number[][] = [];
  for (let i = 0; i + 1 < flat.length; i += 2) out.push([flat[i], flat[i + 1]]);
  return out;
}

export default function App() {
  const ref = useRef<HTMLDivElement>(null);

  useEffect(() => {
    if (!ref.current) return;
    const chart = echarts.init(ref.current, null, { renderer: "svg" });
    const all = [
      ...leftProfiles,
      ...upperProfiles,
      ...warmProfiles,
      ...leftExtraProfiles,
      ...deepLobeProfiles,
      ...midProfiles,
      ...upperExtraProfiles,
      ...crossProfiles,
    ];
    const series = all.map((p, i) => ({
      type: "line" as const,
      data: toPairs(p),
      showSymbol: false,
      symbol: "none",
      silent: true,
      lineStyle: { width: 2, color: CYCLE[i % CYCLE.length] },
      itemStyle: { color: CYCLE[i % CYCLE.length] },
      z: 2,
    }));

    const axisLine = { show: true, onZero: false, lineStyle: { color: INK, width: 1.6 } };
    const axisTick = { show: true, inside: true, length: 8, lineStyle: { color: INK, width: 1.2 } };
    const labelStyle = { fontSize: 27, color: INK, fontFamily: FONT };

    chart.setOption({
      animation: false,
      backgroundColor: "#ffffff",
      grid: { left: 100, right: 43, top: 25, bottom: 86, containLabel: false },
      xAxis: [
        {
          type: "value",
          position: "bottom",
          min: xRange[0],
          max: xRange[1],
          interval: tickStep,
          axisLine,
          axisTick,
          splitLine: { show: false },
          axisLabel: { ...labelStyle, margin: 10, formatter: (v: number) => String(v) },
          name: xLabel,
          nameLocation: "middle",
          nameGap: 50,
          nameTextStyle: { ...labelStyle },
        },
        {
          type: "value",
          position: "top",
          min: xRange[0],
          max: xRange[1],
          interval: tickStep,
          axisLine,
          axisTick,
          splitLine: { show: false },
          axisLabel: { show: false },
        },
      ],
      yAxis: [
        {
          type: "value",
          position: "left",
          inverse: true,
          min: yRange[0],
          max: yRange[1],
          interval: tickStep,
          axisLine,
          axisTick,
          splitLine: { show: false },
          axisLabel: {
            ...labelStyle,
            margin: 10,
            showMaxLabel: false,
            formatter: (v: number) => (Math.abs(v % tickStep) < 1e-9 ? String(v) : ""),
          },
          name: yLabel,
          nameLocation: "middle",
          nameGap: 58,
          nameRotate: 90,
          nameTextStyle: { ...labelStyle },
        },
        {
          type: "value",
          position: "right",
          inverse: true,
          min: yRange[0],
          max: yRange[1],
          interval: tickStep,
          axisLine,
          axisTick,
          splitLine: { show: false },
          axisLabel: { show: false },
        },
      ],
      series,
    });
    return () => chart.dispose();
  }, []);

  return (
    <div
      ref={ref}
      style={{ position: "absolute", left: 0, top: 0, width: 1230, height: 958, background: "#fff" }}
    />
  );
}
